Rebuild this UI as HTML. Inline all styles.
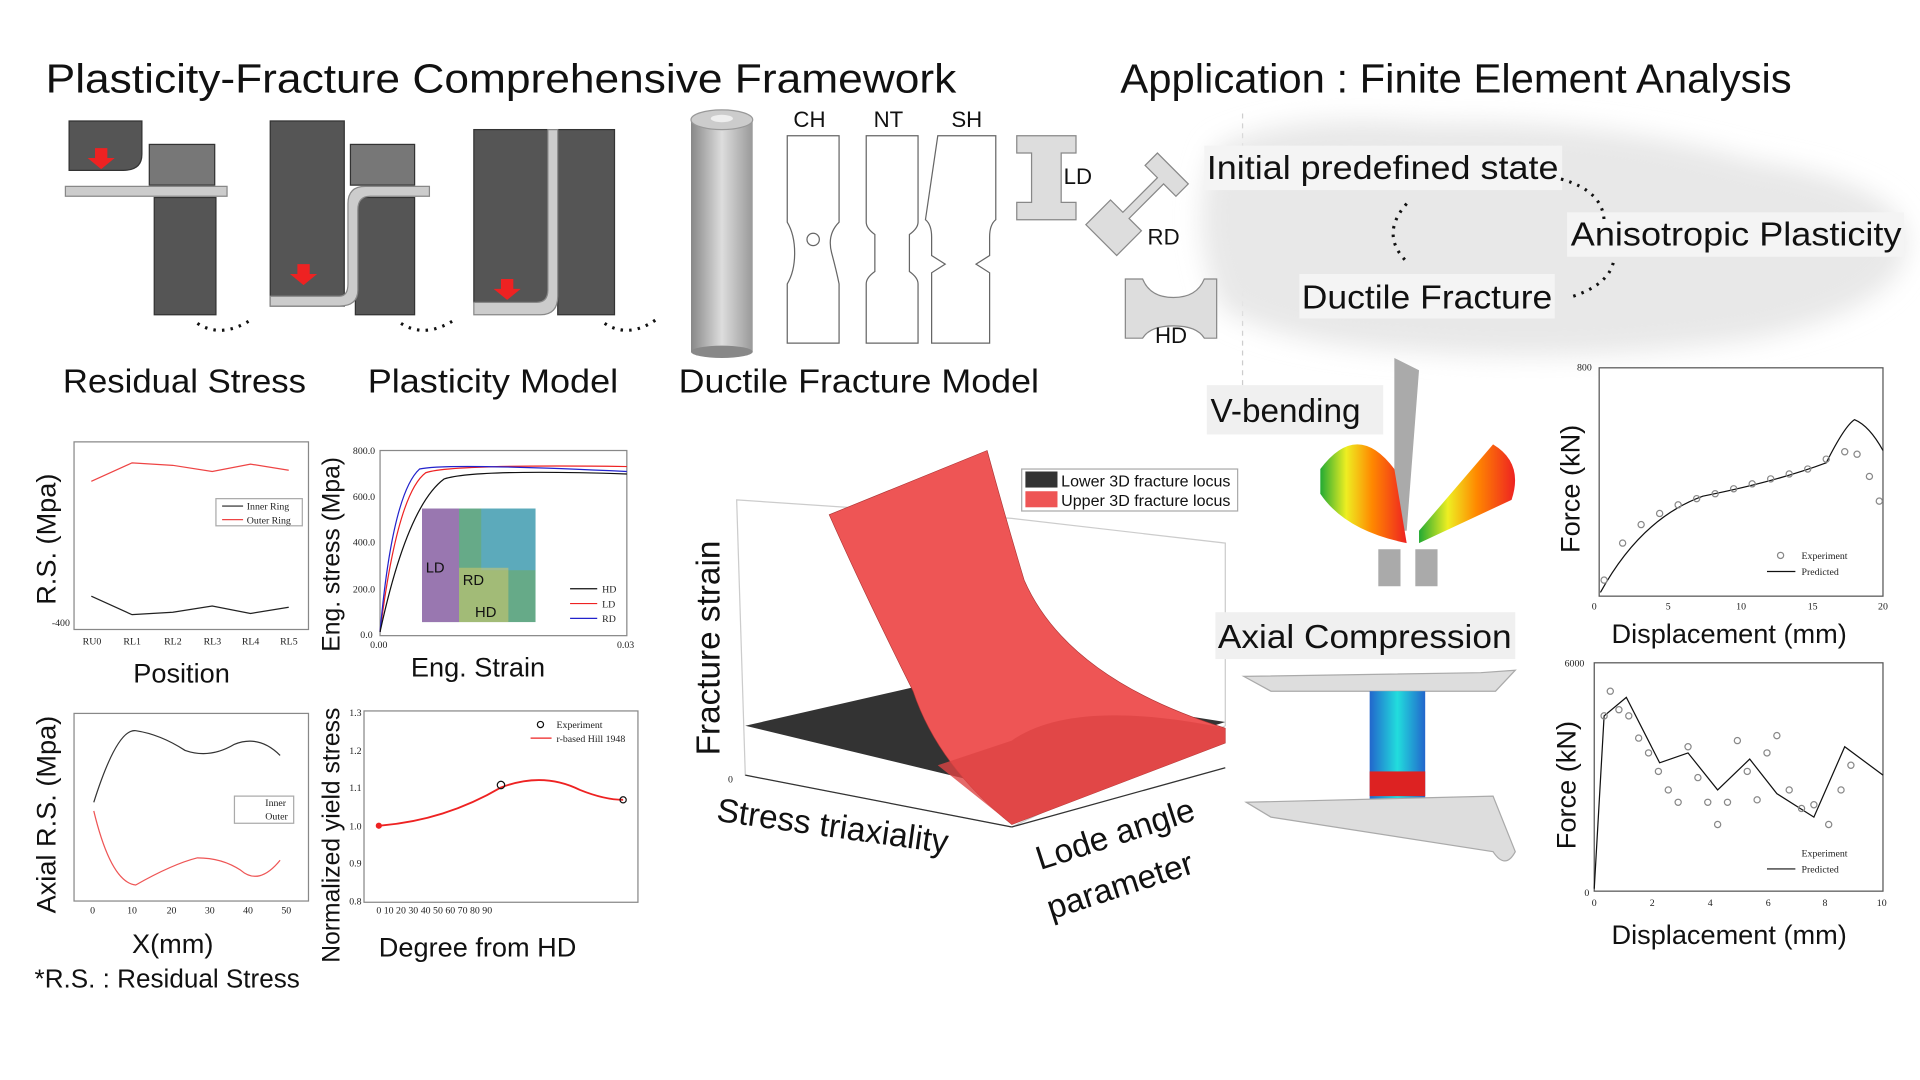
<!DOCTYPE html>
<html><head><meta charset="utf-8"><style>
html,body{margin:0;padding:0;background:#fff;width:1920px;height:1080px;overflow:hidden}
svg{display:block}
text{font-family:"Liberation Sans",sans-serif;fill:#111}
.s{font-family:"Liberation Serif",serif;font-size:8px;fill:#222}
</style></head><body>
<svg width="1920" height="1080" viewBox="0 0 1556 875" preserveAspectRatio="none">
<defs>
<filter id="bl"><feGaussianBlur stdDeviation="10"/></filter>
<linearGradient id="cyl" x1="0" x2="1"><stop offset="0" stop-color="#888"/><stop offset=".5" stop-color="#ddd"/><stop offset="1" stop-color="#999"/></linearGradient>
<linearGradient id="fem" x1="0" x2="1"><stop offset="0" stop-color="#2a3"/><stop offset=".3" stop-color="#ee2"/><stop offset=".6" stop-color="#f80"/><stop offset="1" stop-color="#e22"/></linearGradient>
<linearGradient id="ax" x1="0" x2="1"><stop offset="0" stop-color="#26c"/><stop offset=".5" stop-color="#2dd"/><stop offset="1" stop-color="#26c"/></linearGradient>
</defs>
<text x="37" y="75" font-size="33" textLength="738" lengthAdjust="spacingAndGlyphs">Plasticity-Fracture Comprehensive Framework</text>
<text x="908" y="75" font-size="33" textLength="544" lengthAdjust="spacingAndGlyphs">Application : Finite Element Analysis</text>
<line x1="1007" y1="92" x2="1007" y2="330" stroke="#ccc" stroke-dasharray="4,4"/>
<path d="M985 120 Q1040 90 1160 100 Q1300 95 1420 130 Q1550 150 1545 200 Q1540 250 1420 275 Q1280 295 1150 285 Q1040 280 990 250 Q960 180 985 120Z" fill="#e8e8e8" filter="url(#bl)"/>
<rect x="976" y="118" width="290" height="36" fill="#f4f4f4"/>
<rect x="1270" y="172" width="273" height="36" fill="#f4f4f4"/>
<rect x="1053" y="222" width="207" height="36" fill="#f4f4f4"/>
<text x="978" y="145" font-size="27" textLength="285" lengthAdjust="spacingAndGlyphs">Initial predefined state</text>
<text x="1273" y="199" font-size="27" textLength="268" lengthAdjust="spacingAndGlyphs">Anisotropic Plasticity</text>
<text x="1055" y="250" font-size="27" textLength="203" lengthAdjust="spacingAndGlyphs">Ductile Fracture</text>
<path d="M1265 145 Q1300 155 1300 180" fill="none" stroke="#111" stroke-width="2.5" stroke-dasharray="2,5"/>
<path d="M1275 240 Q1305 230 1308 210" fill="none" stroke="#111" stroke-width="2.5" stroke-dasharray="2,5"/>
<path d="M1140 165 Q1118 190 1140 212" fill="none" stroke="#111" stroke-width="2.5" stroke-dasharray="2,5"/>
<g fill="#555" stroke="#333">
<path d="M56 98 H115 V125 Q115 138 100 138 H56Z"/>
<rect x="121" y="117" width="53" height="33" fill="#777"/>
<path d="M125 160 H175 V255 H125Z"/>
<rect x="219" y="98" width="60" height="150"/>
<rect x="284" y="117" width="52" height="33" fill="#777"/>
<rect x="288" y="160" width="48" height="95"/>
<rect x="384" y="105" width="60" height="140"/>
<rect x="452" y="105" width="46" height="150"/>
</g>
<rect x="53" y="151" width="131" height="8" fill="#ccc" stroke="#888"/>
<path d="M219 240 H275 Q282 240 282 230 V165 Q282 151 296 151 H348 V159 H300 Q290 159 290 170 V235 Q290 248 275 248 H219Z" fill="#ccc" stroke="#888"/>
<path d="M384 245 H435 Q444 245 444 235 V105 H452 V240 Q452 255 438 255 H384Z" fill="#ccc" stroke="#888"/>
<g fill="#e22"><path d="M77 120h10v8h6l-11 9-11-9h6z"/><path d="M241 214h10v8h6l-11 9-11-9h6z"/><path d="M406 226h10v8h6l-11 9-11-9h6z"/></g>
<g fill="none" stroke="#111" stroke-width="2.5" stroke-dasharray="2,5"><path d="M160 262 Q180 275 205 258"/><path d="M325 262 Q345 275 370 258"/><path d="M490 262 Q510 275 533 258"/></g>
<text x="51" y="318" font-size="27" textLength="197" lengthAdjust="spacingAndGlyphs">Residual Stress</text>
<text x="298" y="318" font-size="27" textLength="203" lengthAdjust="spacingAndGlyphs">Plasticity Model</text>
<text x="550" y="318" font-size="27" textLength="292" lengthAdjust="spacingAndGlyphs">Ductile Fracture Model</text>
<rect x="560" y="97" width="50" height="188" fill="url(#cyl)"/>
<ellipse cx="585" cy="97" rx="25" ry="8" fill="#ccc" stroke="#999"/>
<ellipse cx="585" cy="96" rx="9" ry="3" fill="#eee"/>
<ellipse cx="585" cy="285" rx="25" ry="5" fill="#888"/>
<g fill="#fff" stroke="#666">
<path d="M638 110h42v70q-10 10-6 25t6 25v48h-42v-48q6-10 6-25t-6-25z"/>
<path d="M702 110h42v70q0 5-7 10v30q7 5 7 10v48h-42v-48q0-5 7-10v-30q-7-5-7-10z"/>
<path d="M760 110h47v68q-5 4-5 14v15l-11 7 11 7v57h-47v-57l11-7-11-7v-15q0-10-5-14z"/>
<circle cx="659" cy="194" r="5"/>
</g>
<text x="643" y="103" font-size="18">CH</text><text x="708" y="103" font-size="18">NT</text><text x="771" y="103" font-size="18">SH</text>
<g fill="#ddd" stroke="#888">
<path d="M824 110h48v14h-12v40h12v14h-48v-14h12v-40h-12z"/>
<path d="M880 182l20-20 10 10 28-28-10-10 10-10 25 25-10 10-10-10-28 28 10 10-20 20z"/>
<path d="M912 226h14q6 15 25 15t25-15h10v48h-10q-6-10-25-10t-25 10h-14z"/>
</g>
<text x="862" y="149" font-size="18">LD</text><text x="930" y="198" font-size="18">RD</text><text x="936" y="278" font-size="18">HD</text>
<rect x="60" y="358" width="190" height="152" fill="#fff" stroke="#888"/>
<polyline points="74,390 107,375 140,377 172,382 203,376 234,381" fill="none" stroke="#e44"/>
<polyline points="74,483 107,498 140,496 172,491 203,497 234,492" fill="none" stroke="#222"/>
<rect x="175" y="404" width="70" height="22" fill="#fff" stroke="#aaa"/>
<text class="s" x="200" y="413">Inner Ring</text><text class="s" x="200" y="424">Outer Ring</text>
<line x1="180" y1="410" x2="197" y2="410" stroke="#222"/><line x1="180" y1="421" x2="197" y2="421" stroke="#e44"/>
<text class="s" x="42" y="507">-400</text>
<text class="s" x="67" y="522">RU0</text><text class="s" x="100" y="522">RL1</text><text class="s" x="133" y="522">RL2</text><text class="s" x="165" y="522">RL3</text><text class="s" x="196" y="522">RL4</text><text class="s" x="227" y="522">RL5</text>
<text x="108" y="553" font-size="22" fill="#333">Position</text>
<text transform="translate(45,490) rotate(-90)" font-size="22" fill="#333">R.S. (Mpa)</text>
<rect x="308" y="365" width="200" height="150" fill="#fff" stroke="#888"/>
<path d="M308 512 Q322 400 345 383 Q365 376 508 378" fill="none" stroke="#e22"/>
<path d="M308 512 Q318 400 340 380 Q360 375 508 382" fill="none" stroke="#22c"/>
<path d="M308 512 Q330 410 360 388 Q385 380 508 384" fill="none" stroke="#111"/>
<rect x="342" y="412" width="92" height="92" fill="#6a8"/>
<rect x="342" y="412" width="30" height="92" fill="#b5c" opacity=".6"/><rect x="390" y="412" width="44" height="50" fill="#5ad" opacity=".6"/><rect x="372" y="460" width="40" height="44" fill="#dc6" opacity=".5"/>
<text x="345" y="464" font-size="12" fill="#fff">LD</text><text x="375" y="474" font-size="12" fill="#fff">RD</text><text x="385" y="500" font-size="12" fill="#fff">HD</text>
<text class="s" x="488" y="480">HD</text><text class="s" x="488" y="492">LD</text><text class="s" x="488" y="504">RD</text>
<line x1="462" y1="477" x2="484" y2="477" stroke="#111"/><line x1="462" y1="489" x2="484" y2="489" stroke="#e22"/><line x1="462" y1="501" x2="484" y2="501" stroke="#22c"/>
<text class="s" x="286" y="368">800.0</text><text class="s" x="286" y="405">600.0</text><text class="s" x="286" y="442">400.0</text><text class="s" x="286" y="480">200.0</text><text class="s" x="292" y="517">0.0</text>
<text class="s" x="300" y="525">0.00</text><text class="s" x="500" y="525">0.03</text>
<text x="333" y="548" font-size="22" fill="#333">Eng. Strain</text>
<text transform="translate(275,528) rotate(-90)" font-size="20" fill="#333">Eng. stress (Mpa)</text>
<rect x="60" y="578" width="190" height="152" fill="#fff" stroke="#888"/>
<path d="M76 650 Q95 590 110 592 Q130 595 150 608 Q170 615 190 603 Q210 595 227 612" fill="none" stroke="#333"/>
<path d="M76 657 Q90 715 110 717 Q140 700 160 695 Q180 695 195 705 Q210 718 227 697" fill="none" stroke="#e55"/>
<rect x="190" y="645" width="48" height="22" fill="#fff" stroke="#aaa"/>
<text class="s" x="215" y="653">Inner</text><text class="s" x="215" y="664">Outer</text>
<text class="s" x="73" y="740">0</text><text class="s" x="103" y="740">10</text><text class="s" x="135" y="740">20</text><text class="s" x="166" y="740">30</text><text class="s" x="197" y="740">40</text><text class="s" x="228" y="740">50</text>
<text x="107" y="772" font-size="22" fill="#333">X(mm)</text>
<text transform="translate(45,740) rotate(-90)" font-size="22" fill="#333">Axial R.S. (Mpa)</text>
<text x="28" y="800" font-size="21" textLength="215" lengthAdjust="spacingAndGlyphs">*R.S. : Residual Stress</text>
<rect x="295" y="576" width="222" height="155" fill="#fff" stroke="#888"/>
<path d="M307 669 Q360 665 406 638 Q440 625 470 640 Q490 648 505 648" fill="none" stroke="#e22" stroke-width="1.5"/>
<circle cx="307" cy="669" r="2.5" fill="#e22"/><circle cx="406" cy="636" r="3" fill="none" stroke="#111"/><circle cx="505" cy="648" r="2.5" fill="none" stroke="#111"/>
<text class="s" x="451" y="590">Experiment</text><text class="s" x="451" y="601">r-based Hill 1948</text>
<line x1="430" y1="598" x2="447" y2="598" stroke="#e22"/><circle cx="438" cy="587" r="2.5" fill="none" stroke="#111"/>
<text class="s" x="283" y="580">1.3</text><text class="s" x="283" y="611">1.2</text><text class="s" x="283" y="641">1.1</text><text class="s" x="283" y="672">1.0</text><text class="s" x="283" y="702">0.9</text><text class="s" x="283" y="733">0.8</text>
<text class="s" x="305" y="740">0  10  20  30  40  50  60  70  80  90</text>
<text x="307" y="775" font-size="22" fill="#333">Degree from HD</text>
<text transform="translate(275,780) rotate(-90)" font-size="20" fill="#333">Normalized yield stress</text>
<path d="M597 405 L820 420 L993 440 L993 588 L820 670 L604 628Z" fill="none" stroke="#ccc"/>
<line x1="604" y1="628" x2="820" y2="670" stroke="#333"/><line x1="820" y1="670" x2="993" y2="622" stroke="#333"/>
<path d="M604 588 L770 550 L993 585 L820 640Z" fill="#333"/>
<path d="M672 417 L800 365 Q815 420 830 470 Q865 550 993 590 L993 602 L820 668 Q760 620 740 560 Q700 480 672 417Z" fill="#e55" stroke="#a33" stroke-width=".5"/>
<path d="M760 620 L820 668 L993 602 L993 590 Q870 565 820 600Z" fill="#d44" opacity=".8"/>
<rect x="828" y="380" width="175" height="34" fill="#fff" stroke="#aaa"/>
<rect x="831" y="382" width="26" height="13" fill="#333"/><rect x="831" y="398" width="26" height="13" fill="#e55"/>
<text x="860" y="394" font-size="13">Lower 3D fracture locus</text><text x="860" y="410" font-size="13">Upper 3D fracture locus</text>
<text class="s" x="590" y="634">0</text>
<text transform="translate(583,612) rotate(-90)" font-size="27">Fracture strain</text>
<text transform="translate(580,665) rotate(8)" font-size="27">Stress triaxiality</text>
<text transform="translate(843,705) rotate(-18)" font-size="27">Lode angle</text>
<text transform="translate(852,745) rotate(-18)" font-size="27">parameter</text>
<rect x="978" y="312" width="143" height="40" fill="#f0f0f0"/>
<text x="981" y="342" font-size="27">V-bending</text>
<path d="M1130 290 L1150 300 L1140 430 L1130 430Z" fill="#aaa"/>
<path d="M1070 380 Q1100 340 1130 380 L1140 440 Q1090 430 1070 400Z" fill="url(#fem)"/>
<path d="M1150 430 L1210 360 Q1235 375 1225 405 L1150 440Z" fill="url(#fem)"/>
<path d="M1117 445 H1135 V475 H1117Z M1147 445 H1165 V475 H1147Z" fill="#aaa"/>
<rect x="985" y="496" width="243" height="38" fill="#f0f0f0"/>
<text x="987" y="525" font-size="27" textLength="238" lengthAdjust="spacingAndGlyphs">Axial Compression</text>
<path d="M1008 548 L1200 545 L1228 543 L1212 560 L1030 560Z" fill="#ddd" stroke="#aaa"/>
<rect x="1110" y="560" width="45" height="90" fill="url(#ax)"/>
<rect x="1110" y="625" width="45" height="20" fill="#d22"/>
<path d="M1010 650 L1210 645 L1228 690 Q1220 705 1210 690 L1030 662Z" fill="#ddd" stroke="#aaa"/>
<rect x="1296" y="298" width="230" height="185" fill="#fff" stroke="#555"/>
<path d="M1297 480 Q1330 420 1380 402 Q1440 390 1480 375 Q1495 345 1503 340 Q1515 345 1526 365" fill="none" stroke="#111"/>
<g fill="none" stroke="#888"><circle cx="1300" cy="470" r="2.5"/><circle cx="1315" cy="440" r="2.5"/><circle cx="1330" cy="425" r="2.5"/><circle cx="1345" cy="416" r="2.5"/><circle cx="1360" cy="409" r="2.5"/><circle cx="1375" cy="404" r="2.5"/><circle cx="1390" cy="400" r="2.5"/><circle cx="1405" cy="396" r="2.5"/><circle cx="1420" cy="392" r="2.5"/><circle cx="1435" cy="388" r="2.5"/><circle cx="1450" cy="384" r="2.5"/><circle cx="1465" cy="380" r="2.5"/><circle cx="1480" cy="372" r="2.5"/><circle cx="1495" cy="366" r="2.5"/><circle cx="1505" cy="368" r="2.5"/><circle cx="1515" cy="386" r="2.5"/><circle cx="1523" cy="406" r="2.5"/><circle cx="1443" cy="450" r="2.5"/><circle cx="1443" cy="690" r="2.5"/></g>
<text class="s" x="1460" y="453">Experiment</text><text class="s" x="1460" y="466">Predicted</text><line x1="1432" y1="463" x2="1455" y2="463" stroke="#111"/>
<text class="s" x="1278" y="300">800</text><text class="s" x="1290" y="494">0</text><text class="s" x="1350" y="494">5</text><text class="s" x="1407" y="494">10</text><text class="s" x="1465" y="494">15</text><text class="s" x="1522" y="494">20</text>
<text x="1306" y="521" font-size="22" fill="#333">Displacement (mm)</text>
<text transform="translate(1280,448) rotate(-90)" font-size="22" fill="#333">Force (kN)</text>
<rect x="1292" y="537" width="234" height="185" fill="#fff" stroke="#555"/>
<path d="M1292 720 L1300 580 L1318 565 L1345 618 L1368 610 L1392 640 L1418 615 L1440 643 L1470 662 L1495 605 L1526 628" fill="none" stroke="#111"/>
<g fill="none" stroke="#888"><circle cx="1300" cy="580" r="2.5"/><circle cx="1305" cy="560" r="2.5"/><circle cx="1312" cy="575" r="2.5"/><circle cx="1320" cy="580" r="2.5"/><circle cx="1328" cy="598" r="2.5"/><circle cx="1336" cy="610" r="2.5"/><circle cx="1344" cy="625" r="2.5"/><circle cx="1352" cy="640" r="2.5"/><circle cx="1360" cy="650" r="2.5"/><circle cx="1368" cy="605" r="2.5"/><circle cx="1376" cy="630" r="2.5"/><circle cx="1384" cy="650" r="2.5"/><circle cx="1392" cy="668" r="2.5"/><circle cx="1400" cy="650" r="2.5"/><circle cx="1408" cy="600" r="2.5"/><circle cx="1416" cy="625" r="2.5"/><circle cx="1424" cy="648" r="2.5"/><circle cx="1432" cy="610" r="2.5"/><circle cx="1440" cy="596" r="2.5"/><circle cx="1450" cy="640" r="2.5"/><circle cx="1460" cy="655" r="2.5"/><circle cx="1470" cy="652" r="2.5"/><circle cx="1482" cy="668" r="2.5"/><circle cx="1492" cy="640" r="2.5"/><circle cx="1500" cy="620" r="2.5"/></g>
<text class="s" x="1460" y="694">Experiment</text><text class="s" x="1460" y="707">Predicted</text><line x1="1432" y1="704" x2="1455" y2="704" stroke="#111"/>
<text class="s" x="1268" y="540">6000</text><text class="s" x="1284" y="726">0</text><text class="s" x="1290" y="734">0</text><text class="s" x="1337" y="734">2</text><text class="s" x="1384" y="734">4</text><text class="s" x="1431" y="734">6</text><text class="s" x="1477" y="734">8</text><text class="s" x="1521" y="734">10</text>
<text x="1306" y="765" font-size="22" fill="#333">Displacement (mm)</text>
<text transform="translate(1277,688) rotate(-90)" font-size="22" fill="#333">Force (kN)</text>
</svg>
</body></html>
